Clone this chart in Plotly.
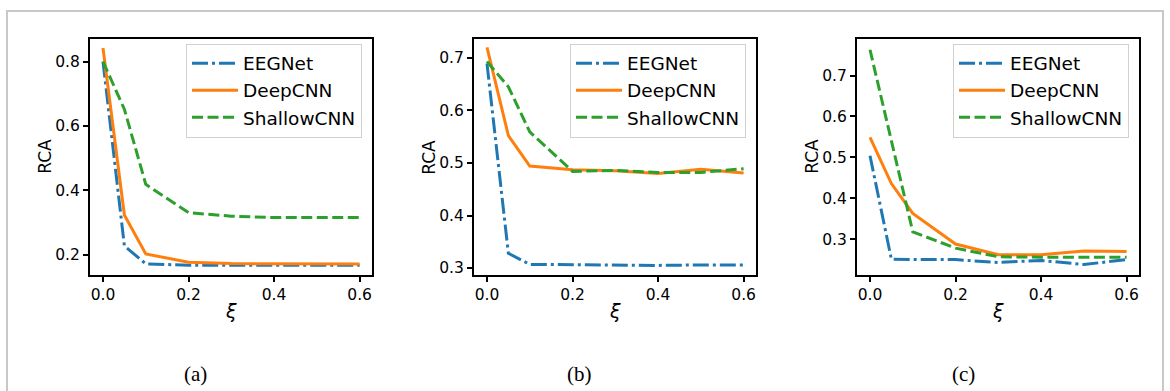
import plotly.graph_objects as go

W, H = 1170, 391

xi = [0.0, 0.05, 0.1, 0.2, 0.3, 0.4, 0.5, 0.6]
series_names = ["EEGNet", "DeepCNN", "ShallowCNN"]

# Panel (a)
a_eegnet = [0.800, 0.228, 0.172, 0.168, 0.168, 0.168, 0.168, 0.168]
a_deepcnn = [0.842, 0.324, 0.203, 0.177, 0.173, 0.172, 0.172, 0.172]
a_shallow = [0.800, 0.652, 0.419, 0.331, 0.320, 0.316, 0.316, 0.316]

# Panel (b)
b_eegnet = [0.689, 0.328, 0.307, 0.306, 0.305, 0.305, 0.306, 0.306]
b_deepcnn = [0.720, 0.552, 0.494, 0.487, 0.485, 0.480, 0.488, 0.481]
b_shallow = [0.693, 0.645, 0.559, 0.484, 0.486, 0.482, 0.482, 0.489]

# Panel (c)
c_eegnet = [0.504, 0.251, 0.250, 0.250, 0.243, 0.248, 0.238, 0.250]
c_deepcnn = [0.549, 0.436, 0.363, 0.288, 0.262, 0.262, 0.271, 0.270]
c_shallow = [0.763, 0.540, 0.318, 0.278, 0.257, 0.256, 0.256, 0.256]

captions = ["(a)", "(b)", "(c)"]
x_ticks = [0.0, 0.2, 0.4, 0.6]
y_ticks = [[0.2, 0.4, 0.6, 0.8], [0.3, 0.4, 0.5, 0.6, 0.7], [0.3, 0.4, 0.5, 0.6, 0.7]]
y_ranges = [[0.138, 0.871], [0.287, 0.7365], [0.2127, 0.79]]
x_range = [-0.0304, 0.629]

panels = [
    [a_eegnet, a_deepcnn, a_shallow],
    [b_eegnet, b_deepcnn, b_shallow],
    [c_eegnet, c_deepcnn, c_shallow],
]

colors = ["#1f77b4", "#ff7f0e", "#2ca02c"]
dashes = ["16px,4px,3px,4px", "solid", "11px,4.5px"]

# pixel box of each axes: left, right
boxes_px = [(90, 372), (474, 756), (857, 1139)]
top_px, bot_px = 39, 277
legend_right_px = [362, 746, 1129]
legend_top_px = 44
caption_x_px = [196, 579, 963]

fig = go.Figure()
layout = dict(
    width=W, height=H,
    margin=dict(l=0, r=0, t=0, b=0),
    paper_bgcolor="white", plot_bgcolor="white",
    font=dict(family="DejaVu Sans", size=15, color="black"),
    showlegend=True,
)

annotations = []
for p in range(3):
    sfx = "" if p == 0 else str(p + 1)
    leg = "legend" if p == 0 else f"legend{p + 1}"
    for s in range(3):
        fig.add_trace(go.Scatter(
            x=xi, y=panels[p][s], mode="lines", name=series_names[s],
            line=dict(color=colors[s], width=3, dash=dashes[s]),
            xaxis="x" + sfx, yaxis="y" + sfx, legend=leg,
        ))
    l, r = boxes_px[p]
    axis_common = dict(
        showline=True, linecolor="black", linewidth=2, mirror=True,
        ticks="outside", ticklen=5, tickwidth=1.5, tickcolor="black",
        showgrid=False, zeroline=False,
        tickfont=dict(family="DejaVu Sans", size=15.5, color="black"),
    )
    layout["xaxis" + sfx] = dict(
        domain=[l / W, r / W], range=x_range, anchor="y" + sfx,
        tickvals=x_ticks, tickformat=".1f", **axis_common,
    )
    layout["yaxis" + sfx] = dict(
        domain=[1 - bot_px / H, 1 - top_px / H], range=y_ranges[p], anchor="x" + sfx,
        tickvals=y_ticks[p], tickformat=".1f", **axis_common,
    )
    layout[leg] = dict(
        x=legend_right_px[p] / W, y=1 - legend_top_px / H, xref="paper", yref="paper",
        xanchor="right", yanchor="top",
        bgcolor="rgba(255,255,255,0.8)", bordercolor="#d0d0d0", borderwidth=1,
        font=dict(family="DejaVu Sans", size=18.5, color="black"),
        tracegroupgap=0, itemwidth=46,
    )
    # y-axis title
    annotations.append(dict(
        text="RCA", x=(l - 45) / W, y=1 - 158 / H, xref="paper", yref="paper",
        showarrow=False, textangle=-90, xanchor="center", yanchor="middle",
        font=dict(family="DejaVu Sans", size=17, color="black"),
    ))
    # x-axis title
    annotations.append(dict(
        text="<i>ξ</i>", x=(l + r) / 2 / W, y=1 - 313 / H, xref="paper", yref="paper",
        showarrow=False, xanchor="center", yanchor="middle",
        font=dict(family="DejaVu Sans", size=19, color="black"),
    ))
    # caption
    annotations.append(dict(
        text=captions[p], x=caption_x_px[p] / W, y=1 - 377 / H, xref="paper", yref="paper",
        showarrow=False, xanchor="center", yanchor="middle",
        font=dict(family="Liberation Serif", size=21, color="black"),
    ))

layout["annotations"] = annotations
layout["shapes"] = [dict(
    type="rect", xref="paper", yref="paper",
    x0=7 / W, x1=1163 / W, y0=-0.05, y1=1 - 11 / H,
    line=dict(color="#c8c8c8", width=2), fillcolor="rgba(0,0,0,0)", layer="below",
)]

fig.update_layout(**layout)
fig.write_html(
    "out.html",
    config={"displayModeBar": False},
    post_script="document.body.style.margin='0';document.body.style.padding='0';",
)
